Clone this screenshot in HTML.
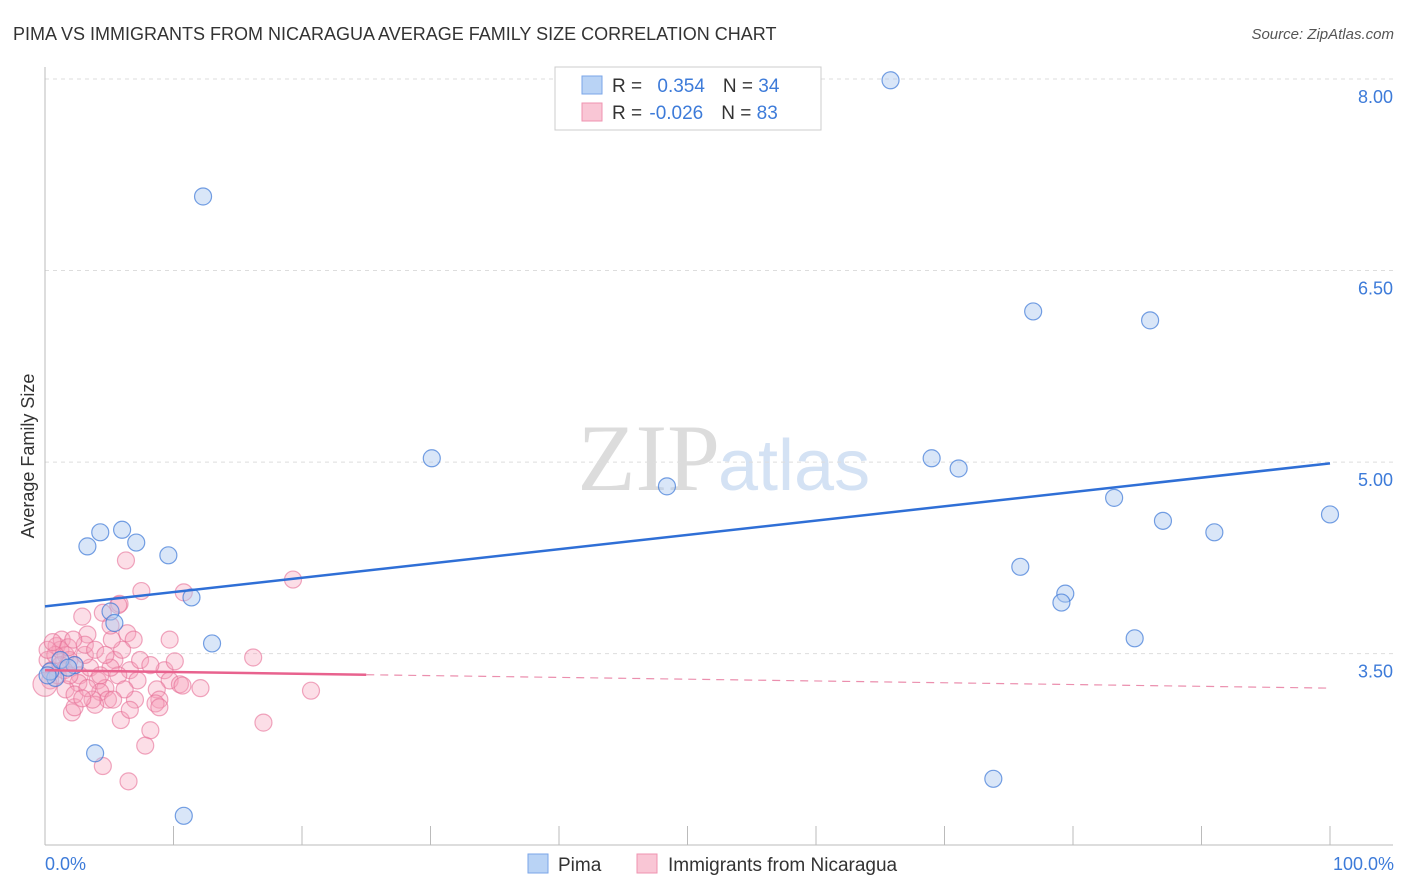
<!DOCTYPE html>
<html><head><meta charset="utf-8"><style>
body{margin:0;background:#fff;font-family:"Liberation Sans",sans-serif}
svg{display:block}
</style></head><body>
<svg id="chart" width="1406" height="892">
<text x="13" y="40" font-size="18" fill="#333">PIMA VS IMMIGRANTS FROM NICARAGUA AVERAGE FAMILY SIZE CORRELATION CHART</text>
<text x="1394" y="39" font-size="15" fill="#555" font-style="italic" text-anchor="end">Source: ZipAtlas.com</text>
<text x="720" y="490" font-size="95" fill="#dcdcdc" text-anchor="end" font-family="Liberation Serif,serif">ZIP</text>
<text x="718" y="490" font-size="72" fill="#d4e2f4">atlas</text>
<g id="grid"></g>
<g id="axes"></g>
<g id="pts"></g>
<g id="trend"></g>
<text transform="translate(34,456) rotate(-90)" font-size="18" fill="#333" text-anchor="middle">Average Family Size</text>
<text x="45" y="870" font-size="18" fill="#3d7bd9">0.0%</text>
<text x="1394" y="870" font-size="18" fill="#3d7bd9" text-anchor="end">100.0%</text>
<g>
<rect x="555" y="67" width="266" height="63" fill="#fff" stroke="#ccc"/>
<rect x="582" y="76" width="20" height="18" fill="#b9d3f5" stroke="#7aa6e8"/>
<rect x="582" y="103" width="20" height="18" fill="#f9c6d5" stroke="#ef93b0"/>
<text x="612" y="92" font-size="19" fill="#333">R = <tspan fill="#3d7bd9" dx="10">0.354</tspan><tspan dx="18" fill="#333">N = </tspan><tspan fill="#3d7bd9">34</tspan></text>
<text x="612" y="119" font-size="19" fill="#333">R = <tspan fill="#3d7bd9" dx="2">-0.026</tspan><tspan dx="18" fill="#333">N = </tspan><tspan fill="#3d7bd9">83</tspan></text>
</g>
<g><rect x="528" y="854" width="20" height="19" fill="#b9d3f5" stroke="#7aa6e8"/><text x="558" y="871" font-size="19" fill="#333">Pima</text></g>
<g><rect x="637" y="854" width="20" height="19" fill="#f9c6d5" stroke="#ef93b0"/><text x="668" y="871" font-size="19" fill="#333">Immigrants from Nicaragua</text></g>
</svg>
<script>
const yTicks=[8.0,6.5,5.0,3.5];
const xTickPcts=[0,10,20,30,40,50,60,70,80,90,100];
const pimaX=[65.8,12.3,76.9,86.0,30.1,69.0,71.1,48.4,83.2,87.0,91.0,100,3.3,4.3,6.0,7.1,9.6,11.4,5.1,5.4,13.0,75.9,79.4,79.1,84.8,3.9,73.8,10.8,0.8,0.4,2.3,1.2,1.8,0.2];
const pimaY=[7.99,7.08,6.18,6.11,5.03,5.03,4.95,4.81,4.72,4.54,4.45,4.59,4.34,4.45,4.47,4.37,4.27,3.94,3.83,3.74,3.58,4.18,3.97,3.90,3.62,2.72,2.52,2.23,3.31,3.36,3.41,3.45,3.39,3.33];
const nicX=[6.3,7.5,10.8,19.3,2.9,5.8,4.5,6.4,6.9,3.3,0.9,1.2,0.2,0.5,1.6,1.9,2.3,2.7,3.5,4.1,4.7,5.4,6.0,6.6,7.2,9.3,10.1,9.7,8.7,10.5,12.1,16.2,20.7,10.7,4.3,4.9,3.9,2.1,2.3,5.9,8.2,7.8,17.0,4.5,6.5,8.9,8.6,0.4,0.0,1.3,1.8,3.1,5.2,5.7,3.7,7.0,2.6,1.2,0.8,3.1,3.9,5.1,6.2,7.4,1.6,2.3,4.3,8.2,9.7,1.0,3.3,6.6,5.3,1.5,2.2,4.7,2.9,5.7,5.1,8.9,0.2,0.6,1.9];
const nicY=[4.23,3.99,3.98,4.08,3.79,3.89,3.82,3.66,3.61,3.65,3.56,3.53,3.45,3.37,3.49,3.45,3.41,3.33,3.39,3.29,3.23,3.45,3.53,3.37,3.29,3.37,3.44,3.29,3.22,3.26,3.23,3.47,3.21,3.25,3.20,3.14,3.10,3.04,3.08,2.98,2.90,2.78,2.96,2.62,2.50,3.14,3.11,3.29,3.26,3.61,3.55,3.49,3.61,3.33,3.14,3.14,3.27,3.41,3.49,3.57,3.53,3.39,3.22,3.45,3.22,3.18,3.33,3.41,3.61,3.33,3.23,3.06,3.14,3.37,3.61,3.49,3.15,3.88,3.72,3.08,3.53,3.59,3.33];
const pimaTrend=[3.87,4.99];
const nicTrend=[3.37,3.23];
const NS="http://www.w3.org/2000/svg";
const X=p=>45+p*12.85;
const Y=v=>79+(8-v)*127.7;
function mk(tag,attrs,parent){const e=document.createElementNS(NS,tag);for(const k in attrs)e.setAttribute(k,attrs[k]);document.getElementById(parent).appendChild(e);return e;}
yTicks.forEach(v=>{
 const l=mk('line',{x1:45,x2:1393,y1:Y(v),y2:Y(v),stroke:'#ddd','stroke-dasharray':'4,4'},'grid');
 
 
 const t=mk('text',{x:1393,y:Y(v)+24,'font-size':18,fill:'#3d7bd9','text-anchor':'end'},'grid');
 t.textContent=v.toFixed(2);
 
 
});
const ax=mk('line',{x1:45,x2:45,y1:67,y2:845,stroke:'#bbb'},'axes');


const bx=mk('line',{x1:45,x2:1393,y1:845,y2:845,stroke:'#bbb'},'axes');


xTickPcts.forEach(p=>{
 const t=mk('line',{x1:X(p),x2:X(p),y1:826,y2:845,stroke:'#bbb'},'axes');
 
 
});
nicX.forEach((p,i)=>{
 const c=mk('circle',{cx:X(p),cy:Y(nicY[i]),r:(i==48?12:8.5),fill:'rgba(245,160,185,0.35)',stroke:'rgba(230,110,150,0.6)','stroke-width':1.2},'pts');
 
 
});
pimaX.forEach((p,i)=>{
 const c=mk('circle',{cx:X(p),cy:Y(pimaY[i]),r:8.5,fill:'rgba(170,200,240,0.45)',stroke:'rgba(60,120,215,0.7)','stroke-width':1.2},'pts');
 
 
});
const bt=mk('line',{x1:X(0),x2:X(100),y1:Y(pimaTrend[0]),y2:Y(pimaTrend[1]),stroke:'#2f6fd6','stroke-width':2.5},'trend');


const f=p=>nicTrend[0]+(nicTrend[1]-nicTrend[0])*p/100;
const pt=mk('line',{x1:X(0),x2:X(25),y1:Y(f(0)),y2:Y(f(25)),stroke:'#e8628e','stroke-width':2.5},'trend');


const pd=mk('line',{x1:X(25),x2:X(100),y1:Y(f(25)),y2:Y(f(100)),stroke:'#eb8fae','stroke-width':1.2,'stroke-dasharray':'8,6'},'trend');


</script>
</body></html>
